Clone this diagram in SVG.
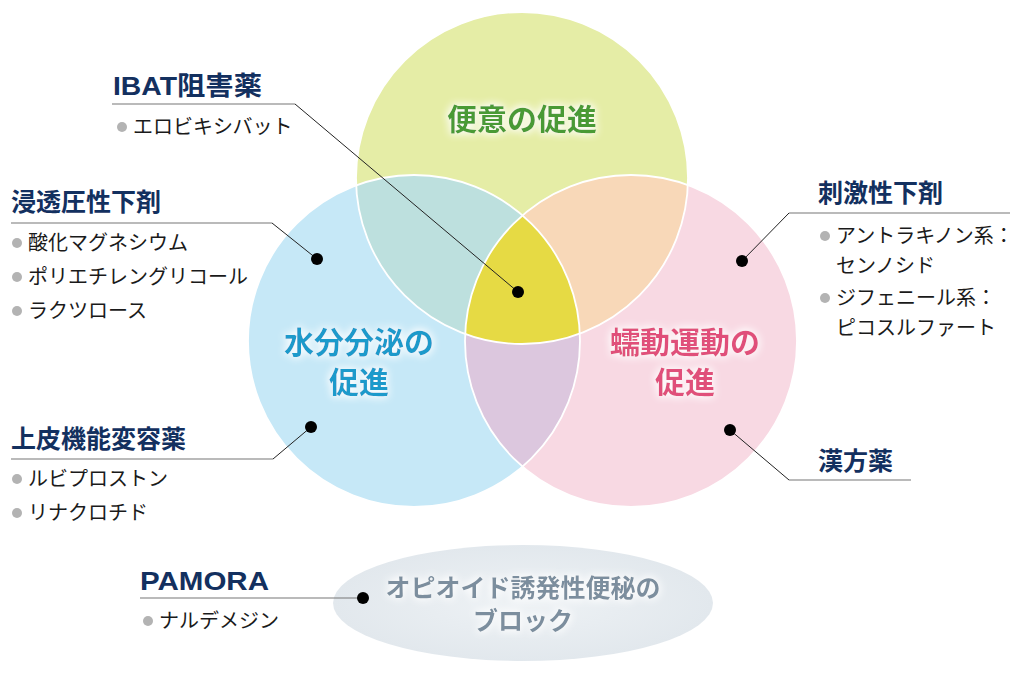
<svg xmlns="http://www.w3.org/2000/svg" width="1018" height="674" viewBox="0 0 1018 674">
<style>
.hd{font-family:"Noto Sans CJK JP",sans-serif;font-weight:700;font-size:25px;fill:#13305f}
.hl{font-family:"Liberation Sans","Noto Sans CJK JP",sans-serif;font-weight:700;font-size:26px;fill:#13305f}
.it{font-family:"Noto Sans CJK JP",sans-serif;font-weight:400;font-size:20px;fill:#1a1a1a}
.big{font-family:"Noto Sans CJK JP",sans-serif;font-weight:700;font-size:30px;text-anchor:middle}
.blt{fill:#b3b3b3}
.dot{fill:#000}
.ul{stroke:#777;stroke-width:1.2;fill:none}
.ld{stroke:#222;stroke-width:1;fill:none}
</style>
<defs>
<clipPath id="cT"><circle cx="522" cy="178" r="166"/></clipPath>
<clipPath id="cB"><circle cx="414" cy="341" r="166"/></clipPath>
<clipPath id="cP"><circle cx="631" cy="341" r="166"/></clipPath>
<filter id="glow" x="-20%" y="-40%" width="140%" height="180%">
<feGaussianBlur in="SourceAlpha" stdDeviation="4" result="b"/>
<feFlood flood-color="#fff"/>
<feComposite in2="b" operator="in" result="w"/>
<feMerge><feMergeNode in="w"/><feMergeNode in="w"/><feMergeNode in="SourceGraphic"/></feMerge>
</filter>
<radialGradient id="eg" cx="50%" cy="50%" r="50%">
<stop offset="0" stop-color="#eef2f5"/>
<stop offset="1" stop-color="#e2e8ed"/>
</radialGradient>
</defs>

<g id="venn">
<circle cx="522" cy="178" r="166" fill="#e5eda6"/>
<circle cx="414" cy="341" r="166" fill="#c6e8f7"/>
<circle cx="631" cy="341" r="166" fill="#f8d9e3"/>
<g clip-path="url(#cT)">
<circle cx="414" cy="341" r="166" fill="#bde0de"/>
<circle cx="631" cy="341" r="166" fill="#f8d8b8"/>
</g>
<g clip-path="url(#cB)">
<circle cx="631" cy="341" r="166" fill="#dcc7de"/>
<g clip-path="url(#cP)"><circle cx="522" cy="178" r="166" fill="#e6da44"/></g>
</g>
<g fill="none" stroke="#fff" stroke-width="1.8">
<circle cx="522" cy="178" r="166"/>
<circle cx="414" cy="341" r="166"/>
<circle cx="631" cy="341" r="166"/>
</g>
</g>

<g id="ellipse">
<ellipse cx="523" cy="603" rx="190" ry="58" fill="url(#eg)"/>
<g filter="url(#glow)">
<text class="big" x="523" y="597" style="font-size:25px" fill="#7b8e9e">オピオイド誘発性便秘の</text>
<text class="big" x="523" y="630" style="font-size:25px" fill="#7b8e9e">ブロック</text>
</g>
</g>

<g id="circle-labels" filter="url(#glow)">
<text class="big" x="522" y="130" fill="#4a9a36">便意の促進</text>
<text class="big" x="359" y="353" fill="#1a9acb">水分分泌の</text>
<text class="big" x="359" y="393" fill="#1a9acb">促進</text>
<text class="big" x="685" y="353" fill="#e0507a">蠕動運動の</text>
<text class="big" x="685" y="393" fill="#e0507a">促進</text>
</g>

<g id="connectors">
<path class="ul" d="M112,104 H295"/><path class="ld" d="M295,104 L518,292"/>
<path class="ul" d="M11,223 H272"/><path class="ld" d="M272,223 L317,259"/>
<path class="ul" d="M11,459 H273"/><path class="ld" d="M273,459 L311,427"/>
<path class="ul" d="M140,598 H363"/>
<path class="ul" d="M789,213 H1010"/><path class="ld" d="M789,213 L742,261"/>
<path class="ul" d="M789,480 H911"/><path class="ld" d="M789,480 L730,430"/>
<circle class="dot" cx="518" cy="292" r="6"/>
<circle class="dot" cx="317" cy="259" r="6"/>
<circle class="dot" cx="311" cy="427" r="6"/>
<circle class="dot" cx="363" cy="598" r="6"/>
<circle class="dot" cx="742" cy="261" r="6"/>
<circle class="dot" cx="730" cy="430" r="6"/>
</g>

<g id="ibat">
<text class="hl" x="113" y="95" textLength="149" lengthAdjust="spacingAndGlyphs">IBAT阻害薬</text>
<circle class="blt" cx="122" cy="127" r="5"/>
<text class="it" x="133" y="134">エロビキシバット</text>
</g>

<g id="osmotic">
<text class="hd" x="11" y="211">浸透圧性下剤</text>
<circle class="blt" cx="17" cy="243" r="5"/><text class="it" x="28" y="250">酸化マグネシウム</text>
<circle class="blt" cx="17" cy="277" r="5"/><text class="it" x="28" y="284">ポリエチレングリコール</text>
<circle class="blt" cx="17" cy="311" r="5"/><text class="it" x="28" y="318">ラクツロース</text>
</g>

<g id="epithelial">
<text class="hd" x="11" y="448">上皮機能変容薬</text>
<circle class="blt" cx="17" cy="479" r="5"/><text class="it" x="28" y="486">ルビプロストン</text>
<circle class="blt" cx="17" cy="513" r="5"/><text class="it" x="28" y="520">リナクロチド</text>
</g>

<g id="pamora">
<text class="hl" x="140" y="590" textLength="129" lengthAdjust="spacingAndGlyphs">PAMORA</text>
<circle class="blt" cx="148" cy="621" r="5"/><text class="it" x="159" y="628">ナルデメジン</text>
</g>

<g id="stimulant">
<text class="hd" x="818" y="202">刺激性下剤</text>
<circle class="blt" cx="825" cy="236" r="5"/><text class="it" x="836" y="243">アントラキノン系：</text>
<text class="it" x="836" y="273">センノシド</text>
<circle class="blt" cx="825" cy="298" r="5"/><text class="it" x="836" y="305">ジフェニール系：</text>
<text class="it" x="836" y="335">ピコスルファート</text>
</g>

<g id="kampo">
<text class="hd" x="818" y="470">漢方薬</text>
</g>
</svg>
